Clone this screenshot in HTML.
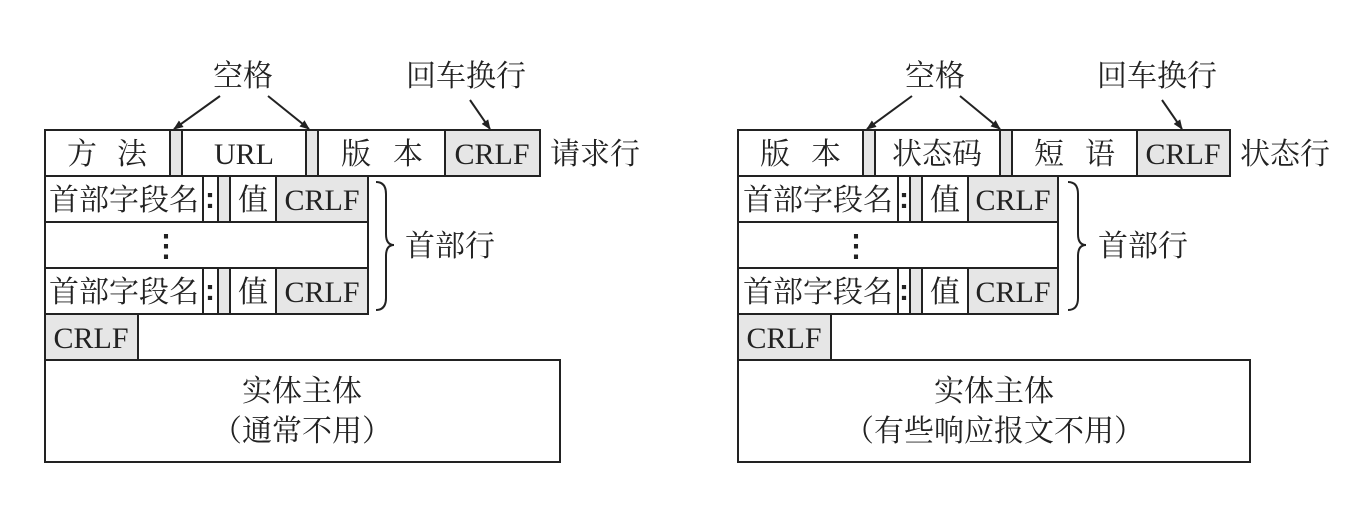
<!DOCTYPE html>
<html><head><meta charset="utf-8"><style>
html,body{margin:0;padding:0;background:#fff;}
svg{display:block;}
text{font-family:"Liberation Serif","Noto Serif CJK SC","Noto Sans CJK SC",serif;font-size:30px;fill:#222;}
.c{font-weight:bold;font-family:"Liberation Sans",sans-serif;}
.b{fill:#fff;stroke:#222;stroke-width:2;}
.g{fill:#e6e6e6;stroke:#222;stroke-width:2;}
.l{stroke:#222;stroke-width:2;fill:none;}
</style></head><body>
<svg width="1362" height="506" viewBox="0 0 1362 506" xmlns="http://www.w3.org/2000/svg">
<defs><marker id="a" markerWidth="10" markerHeight="10" refX="9" refY="5" orient="auto" markerUnits="userSpaceOnUse"><path d="M0,1 L10,5 L0,9 Z" fill="#222"/></marker></defs>
<!-- LEFT -->
<text x="243" y="86" text-anchor="middle">空格</text>
<line class="l" x1="220" y1="96" x2="174" y2="129" marker-end="url(#a)"/>
<line class="l" x1="268" y1="96" x2="309" y2="129" marker-end="url(#a)"/>
<text x="466" y="86" text-anchor="middle">回车换行</text>
<line class="l" x1="470" y1="100" x2="490" y2="129" marker-end="url(#a)"/>
<rect class="b" x="45" y="130" width="125" height="46"/>
<rect class="g" x="170" y="130" width="12" height="46"/>
<rect class="b" x="182" y="130" width="124" height="46"/>
<rect class="g" x="306" y="130" width="12" height="46"/>
<rect class="b" x="318" y="130" width="127" height="46"/>
<rect class="g" x="445" y="130" width="95" height="46"/>
<text x="82" y="164" text-anchor="middle">方</text><text x="132" y="164" text-anchor="middle">法</text>
<text x="244" y="164" text-anchor="middle">URL</text>
<text x="356" y="164" text-anchor="middle">版</text><text x="408" y="164" text-anchor="middle">本</text>
<text x="492" y="164" text-anchor="middle">CRLF</text>
<text x="550" y="164">请求行</text>
<g>
<rect class="b" x="45" y="176" width="158" height="46"/><rect class="b" x="203" y="176" width="15" height="46"/><rect class="g" x="218" y="176" width="12" height="46"/><rect class="b" x="230" y="176" width="46" height="46"/><rect class="g" x="276" y="176" width="92" height="46"/>
<text x="124" y="210" text-anchor="middle">首部字段名</text><text class="c" x="210" y="208" text-anchor="middle">:</text><text x="253" y="210" text-anchor="middle">值</text><text x="322" y="210" text-anchor="middle">CRLF</text>
</g>
<rect class="b" x="45" y="222" width="323" height="46"/>
<text class="c" x="166" y="256" text-anchor="middle">⋮</text>
<g>
<rect class="b" x="45" y="268" width="158" height="46"/><rect class="b" x="203" y="268" width="15" height="46"/><rect class="g" x="218" y="268" width="12" height="46"/><rect class="b" x="230" y="268" width="46" height="46"/><rect class="g" x="276" y="268" width="92" height="46"/>
<text x="124" y="302" text-anchor="middle">首部字段名</text><text class="c" x="210" y="300" text-anchor="middle">:</text><text x="253" y="302" text-anchor="middle">值</text><text x="322" y="302" text-anchor="middle">CRLF</text>
</g>
<path class="l" stroke-width="1.5" d="M376,182 Q386,182 386,194 L386,234 Q386,245 394,245 Q386,245 386,256 L386,298 Q386,310 376,310"/>
<text x="405" y="256">首部行</text>
<rect class="g" x="45" y="314" width="93" height="46"/>
<text x="91" y="348" text-anchor="middle">CRLF</text>
<rect class="b" x="45" y="360" width="515" height="102"/>
<text x="302" y="401" text-anchor="middle">实体主体</text>
<text x="302" y="441" text-anchor="middle">（通常不用）</text>
<!-- RIGHT -->
<text x="935" y="86" text-anchor="middle">空格</text>
<line class="l" x1="912" y1="96" x2="867" y2="129" marker-end="url(#a)"/>
<line class="l" x1="960" y1="96" x2="1000" y2="129" marker-end="url(#a)"/>
<text x="1157" y="86" text-anchor="middle">回车换行</text>
<line class="l" x1="1162" y1="100" x2="1182" y2="129" marker-end="url(#a)"/>
<rect class="b" x="738" y="130" width="125" height="46"/>
<rect class="g" x="863" y="130" width="12" height="46"/>
<rect class="b" x="875" y="130" width="125" height="46"/>
<rect class="g" x="1000" y="130" width="12" height="46"/>
<rect class="b" x="1012" y="130" width="125" height="46"/>
<rect class="g" x="1137" y="130" width="93" height="46"/>
<text x="775" y="164" text-anchor="middle">版</text><text x="826" y="164" text-anchor="middle">本</text>
<text x="937" y="164" text-anchor="middle">状态码</text>
<text x="1049" y="164" text-anchor="middle">短</text><text x="1100" y="164" text-anchor="middle">语</text>
<text x="1183" y="164" text-anchor="middle">CRLF</text>
<text x="1240" y="164">状态行</text>
<g>
<rect class="b" x="738" y="176" width="160" height="46"/><rect class="b" x="898" y="176" width="12" height="46"/><rect class="g" x="910" y="176" width="12" height="46"/><rect class="b" x="922" y="176" width="46" height="46"/><rect class="g" x="968" y="176" width="90" height="46"/>
<text x="818" y="210" text-anchor="middle">首部字段名</text><text class="c" x="904" y="208" text-anchor="middle">:</text><text x="945" y="210" text-anchor="middle">值</text><text x="1013" y="210" text-anchor="middle">CRLF</text>
</g>
<rect class="b" x="738" y="222" width="320" height="46"/>
<text class="c" x="856" y="256" text-anchor="middle">⋮</text>
<g>
<rect class="b" x="738" y="268" width="160" height="46"/><rect class="b" x="898" y="268" width="12" height="46"/><rect class="g" x="910" y="268" width="12" height="46"/><rect class="b" x="922" y="268" width="46" height="46"/><rect class="g" x="968" y="268" width="90" height="46"/>
<text x="818" y="302" text-anchor="middle">首部字段名</text><text class="c" x="904" y="300" text-anchor="middle">:</text><text x="945" y="302" text-anchor="middle">值</text><text x="1013" y="302" text-anchor="middle">CRLF</text>
</g>
<path class="l" stroke-width="1.5" d="M1068,182 Q1078,182 1078,194 L1078,234 Q1078,245 1086,245 Q1078,245 1078,256 L1078,298 Q1078,310 1068,310"/>
<text x="1098" y="256">首部行</text>
<rect class="g" x="738" y="314" width="93" height="46"/>
<text x="784" y="348" text-anchor="middle">CRLF</text>
<rect class="b" x="738" y="360" width="512" height="102"/>
<text x="994" y="401" text-anchor="middle">实体主体</text>
<text x="994" y="441" text-anchor="middle">（有些响应报文不用）</text>
</svg>
</body></html>
